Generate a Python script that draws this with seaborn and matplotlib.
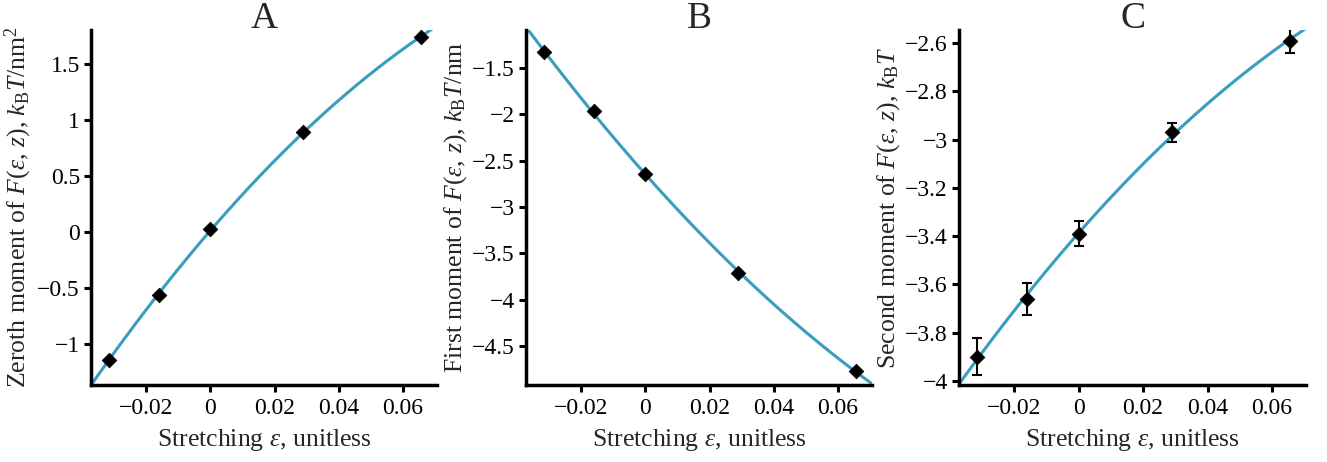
import numpy as np
import pandas as pd
import matplotlib
matplotlib.use("Agg")
import matplotlib.pyplot as plt
import seaborn as sns

# ---- data ----
strain = [-0.0317, -0.0160, 0.0, 0.0290, 0.0655]
zeroth = [-1.143, -0.565, 0.02, 0.885, 1.74]
first = [-1.33, -1.965, -2.645, -3.715, -4.77]
second = [-3.90, -3.66, -3.39, -2.97, -2.59]
second_err = [0.077, 0.065, 0.052, 0.040, 0.050]

panel_titles = ["A", "B", "C"]
ylabels = [
    r"Zeroth moment of $F(\varepsilon,\,z)$, $k_{\mathrm{B}}T$/nm$^2$",
    r"First moment of $F(\varepsilon,\,z)$, $k_{\mathrm{B}}T$/nm",
    r"Second moment of $F(\varepsilon,\,z)$, $k_{\mathrm{B}}T$",
]
xlabel = r"Stretching $\varepsilon$, unitless"
xticks = [-0.02, 0, 0.02, 0.04, 0.06]
xticklabels = ["\u22120.02", "0", "0.02", "0.04", "0.06"]
yticks_list = [
    [-1, -0.5, 0, 0.5, 1, 1.5],
    [-4.5, -4, -3.5, -3, -2.5, -2, -1.5],
    [-4, -3.8, -3.6, -3.4, -3.2, -3, -2.8, -2.6],
]
ylims = [(-1.37, 1.80), (-4.92, -1.09), (-4.017, -2.546)]
xlim = (-0.0372, 0.0706)

sns.set_theme(style="ticks")
plt.rcParams["font.family"] = ["Liberation Serif", "DejaVu Serif"]
plt.rcParams["mathtext.fontset"] = "custom"
plt.rcParams["mathtext.rm"] = "Liberation Serif"
plt.rcParams["mathtext.it"] = "Liberation Serif:italic"
plt.rcParams["mathtext.bf"] = "Liberation Serif:bold"

line_color = "#3a9dbf"

fig = plt.figure(figsize=(13.27, 4.62), dpi=100)
lefts = [91, 526, 959]
rights = [437, 872, 1306]
top, bottom = 30, 385
W, H = 1327, 462

series = [zeroth, first, second]
for i in range(3):
    ax = fig.add_axes([lefts[i] / W, 1 - bottom / H,
                       (rights[i] - lefts[i]) / W, (bottom - top) / H])
    y = series[i]
    df = pd.DataFrame({"x": strain, "y": y})
    coef = np.polyfit(strain, y, 2)
    xs = np.linspace(xlim[0] - 0.002, xlim[1] + 0.002, 300)
    fit = pd.DataFrame({"x": xs, "y": np.polyval(coef, xs)})
    sns.lineplot(data=fit, x="x", y="y", ax=ax, color=line_color, lw=2.2,
                 zorder=2)
    if i == 2:
        ax.errorbar(strain, y, yerr=second_err, fmt="none", ecolor="black",
                    elinewidth=1.5, capsize=3.5, capthick=1.5, zorder=3)
    sns.scatterplot(data=df, x="x", y="y", ax=ax, marker="D", color="black",
                    s=55, edgecolor="black", zorder=4)
    ax.set_xlim(*xlim)
    ax.set_ylim(*ylims[i])
    ax.set_xticks(xticks)
    ax.set_xticklabels(xticklabels)
    yt = yticks_list[i]
    ax.set_yticks(yt)
    ax.set_yticklabels([("\u2212" + f"{abs(v):g}") if v < 0 else f"{v:g}" for v in yt])
    for s in ["top", "right"]:
        ax.spines[s].set_visible(False)
    for s in ["left", "bottom"]:
        ax.spines[s].set_linewidth(2.5)
        ax.spines[s].set_color("black")
    ax.tick_params(axis="both", direction="out", length=5, width=2.2,
                   labelsize=17, colors="black")
    ax.tick_params(axis="x", pad=4)
    ax.tick_params(axis="y", pad=3)
    ax.set_xlabel(xlabel, fontsize=18.5, labelpad=6)
    ax.set_ylabel(ylabels[i], fontsize=18.5, labelpad=2)
    ax.set_title(panel_titles[i], fontsize=27, pad=0, y=1.005)
    ax.set_facecolor("white")

fig.savefig("out.png", dpi=100, facecolor="white")
